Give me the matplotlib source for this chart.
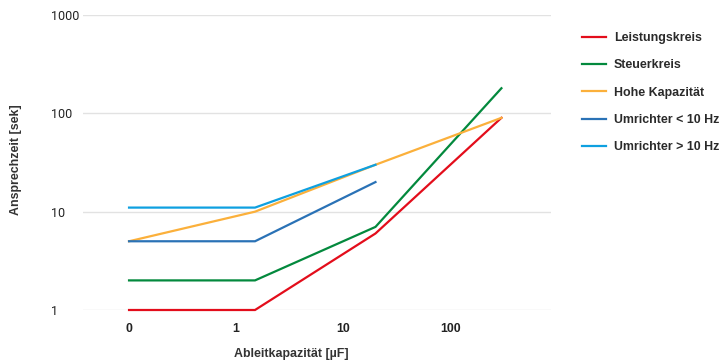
import matplotlib
matplotlib.use("Agg")
import matplotlib.pyplot as plt

# x values in µF ("0" is drawn at the 0.1 position of the log axis)
x_vals = [0.1, 1.5, 20, 300]
x_ticks = [0.1, 1, 10, 100]
x_tick_labels = ["0", "1", "10", "100"]
y_ticks = [1, 10, 100, 1000]

leistungskreis = [1, 1, 6, 90]
steuerkreis = [2, 2, 7, 180]
hohe_kapazitaet = [5, 10, 30, 90]
umrichter_low = [5, 5, 20]
umrichter_high = [11, 11, 30]

series = [
    ("Leistungskreis", x_vals, leistungskreis, "#e30d1b"),
    ("Steuerkreis", x_vals, steuerkreis, "#03893d"),
    ("Hohe Kapazität", x_vals, hohe_kapazitaet, "#fbb03b"),
    ("Umrichter < 10 Hz", x_vals[:3], umrichter_low, "#2a72b6"),
    ("Umrichter > 10 Hz", x_vals[:3], umrichter_high, "#0ea0e0"),
]

fig = plt.figure(figsize=(7.21, 3.63), dpi=100)
ax = fig.add_axes([83 / 721, 1 - 310 / 363, (551 - 83) / 721, (310 - 15) / 363])

for name, xs, ys, col in series:
    ax.plot(xs, ys, color=col, lw=1.6, label=name, solid_joinstyle="miter", clip_on=False)

ax.set_xscale("log")
ax.set_yscale("log")
ax.set_xlim(10 ** -1.43, 10 ** 2.94)
ax.set_ylim(1, 1000)

ax.set_xticks(x_ticks)
ax.set_xticklabels(x_tick_labels)
ax.set_yticks(y_ticks)
ax.set_yticklabels([str(v) for v in y_ticks])
ax.minorticks_off()

ax.grid(axis="y", color="#e2e2e2", lw=1.0)
ax.set_axisbelow(True)
for s in ax.spines.values():
    s.set_visible(False)

ax.tick_params(axis="x", length=0, pad=9.5, labelsize=8.8, labelcolor="#222222")
ax.tick_params(axis="y", length=0, pad=23, labelsize=9, labelcolor="#222222")
for lbl in ax.get_xticklabels():
    lbl.set_fontfamily("Liberation Sans")
    lbl.set_fontweight("bold")
for lbl in ax.get_yticklabels():
    lbl.set_fontfamily("Roboto")
    lbl.set_horizontalalignment("left")

fig.text(291 / 721, 1 - 354 / 363, "Ableitkapazität [µF]", ha="center", va="center",
         fontsize=8.9, fontweight="bold", family="Liberation Sans", color="#333333")
fig.text(16 / 721, 1 - 160 / 363, "Ansprechzeit [sek]", ha="center", va="center",
         rotation=90, fontsize=8.9, fontweight="bold", family="Liberation Sans", color="#333333")

fig.legend(loc="upper left", bbox_to_anchor=(577 / 721, 1 - 27 / 363), frameon=False,
           prop={"family": "Liberation Sans", "weight": "bold", "size": 8.9},
           handlelength=1.95, handletextpad=0.65, labelspacing=1.24, borderaxespad=0,
           labelcolor="#2a2a2a")

fig.savefig("out.png", dpi=100)
